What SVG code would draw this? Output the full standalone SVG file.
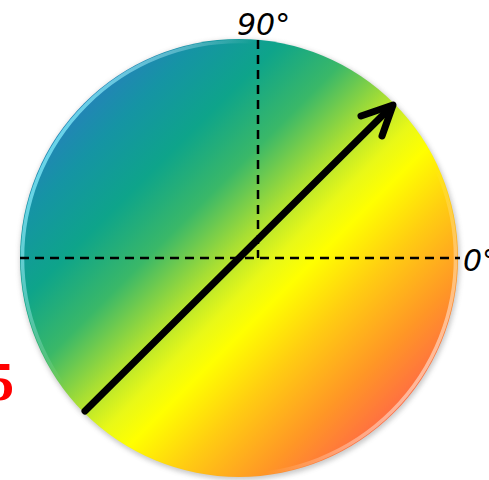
<svg xmlns="http://www.w3.org/2000/svg" width="489" height="480" viewBox="0 0 489 480">
<style>
.dash{stroke:#000;stroke-width:2.5;stroke-dasharray:9 6;fill:none}
.lbl{font-family:"DejaVu Sans",sans-serif;font-style:italic;font-size:30px;fill:#000}
.arr{stroke:#000;stroke-width:7;stroke-linecap:round;stroke-linejoin:round;fill:none}
</style>
<defs>
<linearGradient id="g" gradientUnits="userSpaceOnUse" x1="70" y1="90" x2="410" y2="430">
<stop offset="0" stop-color="#2a7cc0"/>
<stop offset="0.12" stop-color="#1594a4"/>
<stop offset="0.24" stop-color="#0ea48a"/>
<stop offset="0.36" stop-color="#3ab868"/>
<stop offset="0.47" stop-color="#a6de34"/>
<stop offset="0.55" stop-color="#e8f818"/>
<stop offset="0.61" stop-color="#ffff00"/>
<stop offset="0.72" stop-color="#ffcc12"/>
<stop offset="0.85" stop-color="#ff9626"/>
<stop offset="1" stop-color="#ff5a50"/>
</linearGradient>
<linearGradient id="rim" gradientUnits="userSpaceOnUse" x1="30" y1="140" x2="458" y2="380">
<stop offset="0" stop-color="#70f0ff" stop-opacity="0.85"/>
<stop offset="0.3" stop-color="#ffffff" stop-opacity="0"/>
<stop offset="0.75" stop-color="#ffffff" stop-opacity="0"/>
<stop offset="1" stop-color="#fff0e0" stop-opacity="0.75"/>
</linearGradient>
<filter id="sh" x="-10%" y="-10%" width="120%" height="120%">
<feGaussianBlur stdDeviation="2.5"/>
</filter>
</defs>
<g id="disc">
<circle cx="239" cy="258" r="220" fill="#888" opacity="0.45" filter="url(#sh)" transform="translate(1,2)"/>
<circle cx="239" cy="258" r="219" fill="url(#g)"/>
<circle cx="239" cy="258" r="216.5" fill="none" stroke="url(#rim)" stroke-width="3.5"/>
</g>
<g id="axes">
<line class="dash" x1="20" y1="258" x2="460" y2="258"/>
<line class="dash" x1="258" y1="40" x2="258" y2="258"/>
</g>
<g id="vector">
<line class="arr" x1="85" y1="411" x2="391" y2="107"/>
<polyline class="arr" points="361,116 393,105 382,136"/>
</g>
<g id="labels">
<text class="lbl" x="237" y="35">90°</text>
<text class="lbl" x="463" y="271">0°</text>
<text x="-13" y="400" font-family="'Liberation Serif',serif" font-weight="bold" font-size="54" fill="#ff0000">5</text>
</g>
</svg>
